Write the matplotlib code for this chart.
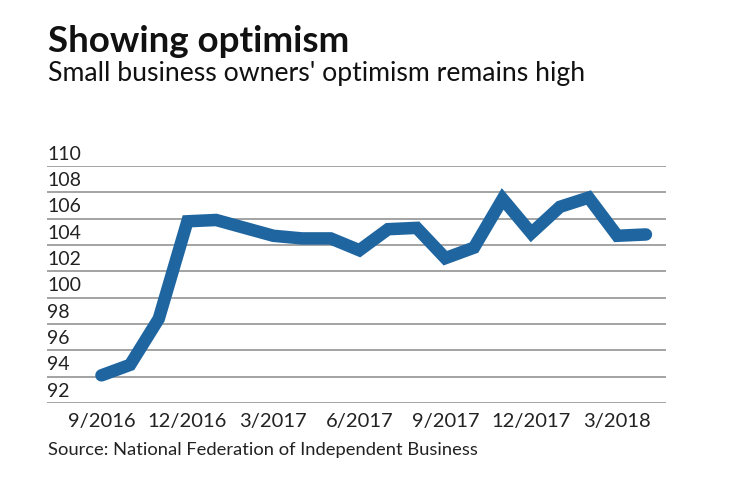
import matplotlib
matplotlib.use("Agg")
import matplotlib.pyplot as plt
import matplotlib.transforms as mtransforms

# NFIB small business optimism index, monthly
months = ["9/2016", "10/2016", "11/2016", "12/2016", "1/2017", "2/2017", "3/2017",
          "4/2017", "5/2017", "6/2017", "7/2017", "8/2017", "9/2017", "10/2017",
          "11/2017", "12/2017", "1/2018", "2/2018", "3/2018", "4/2018"]
index_values = [94.1, 94.9, 98.4, 105.8, 105.9, 105.3, 104.7, 104.5, 104.5, 103.6,
                105.2, 105.3, 103.0, 103.8, 107.5, 104.9, 106.9, 107.6, 104.7, 104.8]
tick_labels = ["9/2016", "12/2016", "3/2017", "6/2017", "9/2017", "12/2017", "3/2018"]
y_ticks = [92, 94, 96, 98, 100, 102, 104, 106, 108, 110]

plt.rcParams['font.family'] = ['Lato', 'DejaVu Sans']

fig = plt.figure(figsize=(7.4, 4.82), dpi=100)
ax = fig.add_axes([47 / 740, 1 - 403 / 482, (666 - 47) / 740, (403 - 166) / 482])

x = list(range(len(months)))
ax.plot(x, index_values, color="#1f66a1", linewidth=9,
        solid_capstyle="round", solid_joinstyle="miter")

ax.set_xlim(-1.9, 19.7)
ax.set_ylim(92, 110)

for v in y_ticks:
    ax.axhline(v, color="#8a8a8a", linewidth=1.1, zorder=0)

trans = mtransforms.blended_transform_factory(ax.transAxes, ax.transData)
for v in y_ticks:
    ax.text(0.0, v + 0.25, str(v), transform=trans, ha="left", va="bottom",
            fontsize=14, color="#222222")

ax.set_xticks([months.index(t) for t in tick_labels])
ax.set_xticklabels(tick_labels, fontsize=14.5, color="#222222")
ax.tick_params(axis="x", length=0, pad=7)
ax.set_yticks([])
for s in ax.spines.values():
    s.set_visible(False)

fig.text(48 / 740, 1 - 42 / 482, "Showing optimism", fontsize=26.5, fontweight="bold",
         ha="left", va="center", color="#111111")
fig.text(48 / 740, 1 - 74 / 482, "Small business owners' optimism remains high",
         fontsize=19.2, ha="left", va="center", color="#111111")
fig.text(48 / 740, 1 - 450 / 482, "Source: National Federation of Independent Business",
         fontsize=13.2, ha="left", va="center", color="#222222")

fig.savefig("out.png", dpi=100)
